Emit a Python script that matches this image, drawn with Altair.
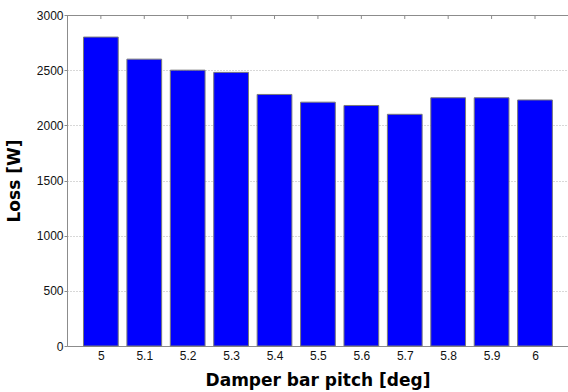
import altair as alt
import pandas as pd

# Damper bar pitch sweep and the resulting loss
pitch = [5.0, 5.1, 5.2, 5.3, 5.4, 5.5, 5.6, 5.7, 5.8, 5.9, 6.0]
loss = [2800, 2600, 2500, 2480, 2280, 2210, 2180, 2100, 2250, 2250, 2230]
y_ticks = [0, 500, 1000, 1500, 2000, 2500, 3000]

df = pd.DataFrame({"pitch": pitch, "loss": loss})

x_scale = alt.Scale(domain=[4.922, 6.076], nice=False, zero=False)
y_scale = alt.Scale(domain=[0, 3000], nice=False)
half_width = 0.04

base = alt.Chart(df)

bars = base.transform_calculate(
    x0=f"datum.pitch - {half_width}", x1=f"datum.pitch + {half_width}"
).mark_bar(color="#0000FF", stroke="#7a7a7a", strokeWidth=1).encode(
    x=alt.X(
        "x0:Q",
        scale=x_scale,
        axis=alt.Axis(
            values=pitch,
            format="~g",
            title="Damper bar pitch [deg]",
            titleFont="DejaVu Sans",
            titleFontWeight="bold",
            titleFontSize=17,
            titleColor="#000000",
            titlePadding=11,
            labelFont="Liberation Sans",
            labelFontSize=12,
            labelColor="#111111",
            labelPadding=4,
            ticks=False,
            grid=False,
            domainColor="#8c8c8c",
            domainWidth=1,
        ),
    ),
    x2="x1:Q",
    y=alt.Y(
        "loss:Q",
        scale=y_scale,
        axis=alt.Axis(
            values=y_ticks,
            format="d",
            title="Loss [W]",
            titleFont="DejaVu Sans",
            titleFontWeight="bold",
            titleFontSize=17,
            titleColor="#000000",
            titlePadding=13,
            labelFont="Liberation Sans",
            labelFontSize=12,
            labelColor="#111111",
            labelPadding=1,
            tickSize=3,
            tickColor="#8c8c8c",
            domainColor="#8c8c8c",
            domainWidth=1,
            grid=True,
            gridColor="#b0b0b0",
            gridDash=[1, 2],
            gridWidth=1,
        ),
    ),
    y2=alt.datum(0),
)

# top frame line with inward ticks at each pitch
top_line = base.mark_rule(color="#8c8c8c", strokeWidth=1).encode(
    x=alt.value(0), x2=alt.value(501), y=alt.value(0.5)
)
top_ticks = base.mark_rule(color="#8c8c8c", strokeWidth=1).encode(
    x=alt.X("pitch:Q", scale=x_scale), y=alt.value(0), y2=alt.value(4)
)

chart = (
    alt.layer(bars, top_line, top_ticks)
    .properties(
        width=501,
        height=331,
        autosize=alt.AutoSizeParams(type="none"),
        padding={"left": 67, "top": 15, "right": 0, "bottom": 46},
        background="#ffffff",
    )
    .configure_view(stroke=None)
)

chart.save("out.html", embed_options={"renderer": "svg", "actions": False})
